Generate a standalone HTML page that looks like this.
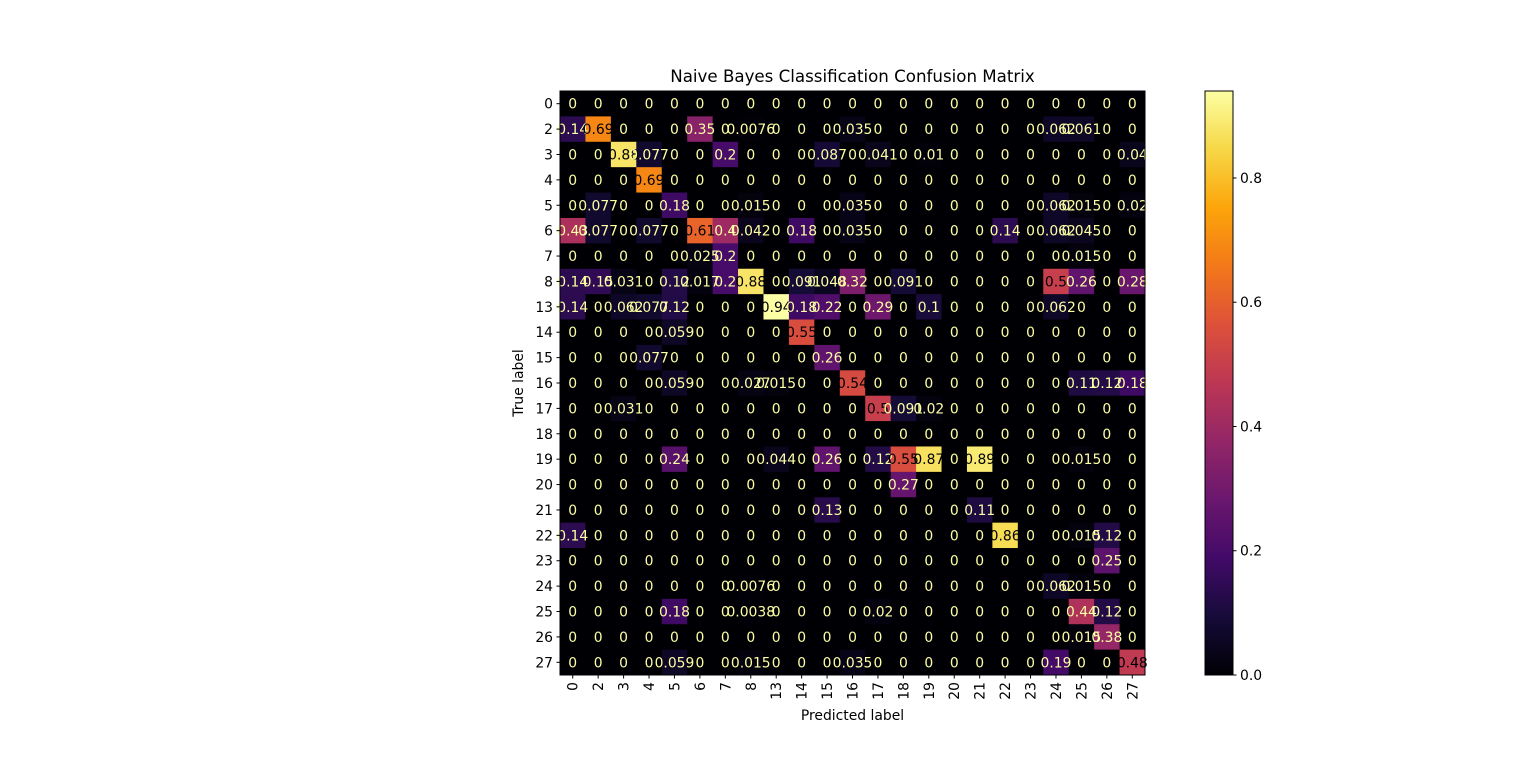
<!DOCTYPE html>
<html><head><meta charset="utf-8"><style>
body{margin:0;background:#fff;width:1536px;height:759px;overflow:hidden}
svg text{font-family:"DejaVu Sans","Liberation Sans",sans-serif}
</style></head><body>
<svg id="chart" width="1536" height="759"></svg>
<script>
const labels=["0","2","3","4","5","6","7","8","13","14","15","16","17","18","19","20","21","22","23","24","25","26","27"];
const cellValues={
"2":{0:.14,1:.69,5:.35,7:.0076,11:.035,19:.062,20:.061},
"3":{2:.88,3:.077,6:.2,10:.087,12:.041,14:.01,22:.04},
"4":{3:.69},
"5":{1:.077,4:.18,7:.015,11:.035,19:.062,20:.015,22:.02},
"6":{0:.43,1:.077,3:.077,5:.61,6:.4,7:.042,9:.18,11:.035,17:.14,19:.062,20:.045},
"7":{5:.025,6:.2,20:.015},
"8":{0:.14,1:.15,2:.031,4:.12,5:.017,6:.2,7:.88,9:.091,10:.048,11:.32,13:.091,19:.5,20:.26,22:.28},
"13":{0:.14,2:.062,3:.077,4:.12,8:.94,9:.18,10:.22,12:.29,14:.1,19:.062},
"14":{4:.059,9:.55},
"15":{3:.077,10:.26},
"16":{4:.059,7:.027,8:.015,11:.54,20:.11,21:.12,22:.18},
"17":{2:.031,12:.5,13:.091,14:.02},
"19":{4:.24,8:.044,10:.26,12:.12,13:.55,14:.87,16:.89,20:.015},
"20":{13:.27},
"21":{10:.13,16:.11},
"22":{0:.14,17:.86,20:.015,21:.12},
"23":{21:.25},
"24":{7:.0076,19:.062,20:.015},
"25":{4:.18,7:.0038,12:.02,20:.44,21:.12},
"26":{20:.015,21:.38},
"27":{4:.059,7:.015,11:.035,19:.19,22:.48}
};
const cbTicks=[0,0.2,0.4,0.6,0.8];
const vmax=0.94;
const stops=["#000004","#160b39","#420a68","#6a176e","#932667","#bc3754","#dd513a","#f37819","#fca50a","#f6d746","#fcffa4"];
function hex(h){return [1,3,5].map(i=>parseInt(h.substr(i,2),16));}
function inferno(t){t=Math.max(0,Math.min(1,t));const p=t*10,i=Math.min(9,Math.floor(p)),f=p-i;const a=hex(stops[i]),b=hex(stops[i+1]);return "rgb("+a.map((v,k)=>Math.round(v+(b[k]-v)*f)).join(",")+")";}
const L=560,T=91,W=585,H=584,n=labels.length,cw=W/n,ch=H/n;
const xs=i=>L+i*cw, ys=i=>T+i*ch;
const svg=document.getElementById('chart');const NS="http://www.w3.org/2000/svg";
function mk(tag,at,txt){const e=document.createElementNS(NS,tag);for(const k in at)e.setAttribute(k,at[k]);if(txt!==undefined)e.textContent=txt;svg.appendChild(e);return e;}
function fmt(v){if(v===0)return "0";return String(+v.toPrecision(2));}
for(let r=0;r<n;r++){const row=cellValues[labels[r]]||{};for(let c=0;c<n;c++){const v=row[c]||0;
const rc=mk('rect',{x:xs(c),y:ys(r),width:cw+0.5,height:ch+0.5,fill:inferno(v/vmax)});


}}
for(let r=0;r<n;r++){const row=cellValues[labels[r]]||{};for(let c=0;c<n;c++){const v=row[c]||0;
const t=mk('text',{x:xs(c)+cw/2,y:ys(r)+ch/2+5,'text-anchor':'middle','font-size':13.9,fill:v>vmax/2?'#000004':'#fcffa4'},fmt(v));


}}
mk('rect',{x:L,y:T,width:W,height:H,fill:'none',stroke:'#000','stroke-width':1});
labels.forEach((lb,i)=>{
mk('line',{x1:L-3.5,x2:L,y1:ys(i)+ch/2,y2:ys(i)+ch/2,stroke:'#000'});
const yt=mk('text',{x:L-7,y:ys(i)+ch/2+5,'text-anchor':'end','font-size':13.9},lb);


const x=xs(i)+cw/2;
mk('line',{x1:x,x2:x,y1:T+H,y2:T+H+3.5,stroke:'#000'});
const xt=mk('text',{x:0,y:0,'text-anchor':'end','font-size':13.9,transform:`translate(${x+5},${T+H+7}) rotate(-90)`},lb);


});
const title=mk('text',{x:L+W/2,y:82,'text-anchor':'middle','font-size':16.67},"Naive Bayes Classification Confusion Matrix");

const xl=mk('text',{x:L+W/2,y:720,'text-anchor':'middle','font-size':13.9},"Predicted label");

const yl=mk('text',{x:0,y:0,'text-anchor':'middle','font-size':13.9,transform:`translate(523,${T+H/2}) rotate(-90)`},"True label");

const cbx=1205,cbw=28;
const g=mk('defs',{});
const lg=document.createElementNS(NS,'linearGradient');lg.setAttribute('id','cbg');lg.setAttribute('x1','0');lg.setAttribute('y1','1');lg.setAttribute('x2','0');lg.setAttribute('y2','0');
stops.forEach((s,i)=>{const st=document.createElementNS(NS,'stop');st.setAttribute('offset',i/10);st.setAttribute('stop-color',s);lg.appendChild(st);});
g.appendChild(lg);
const cb=mk('rect',{x:cbx,y:T,width:cbw,height:H,fill:'url(#cbg)',stroke:'#000','stroke-width':1});

cbTicks.forEach(v=>{const y=T+H-v/vmax*H;
mk('line',{x1:cbx+cbw,x2:cbx+cbw+3.5,y1:y,y2:y,stroke:'#000'});
const t=mk('text',{x:cbx+cbw+7,y:y+5,'font-size':13.9},v.toFixed(1));
});
</script>
</body></html>
